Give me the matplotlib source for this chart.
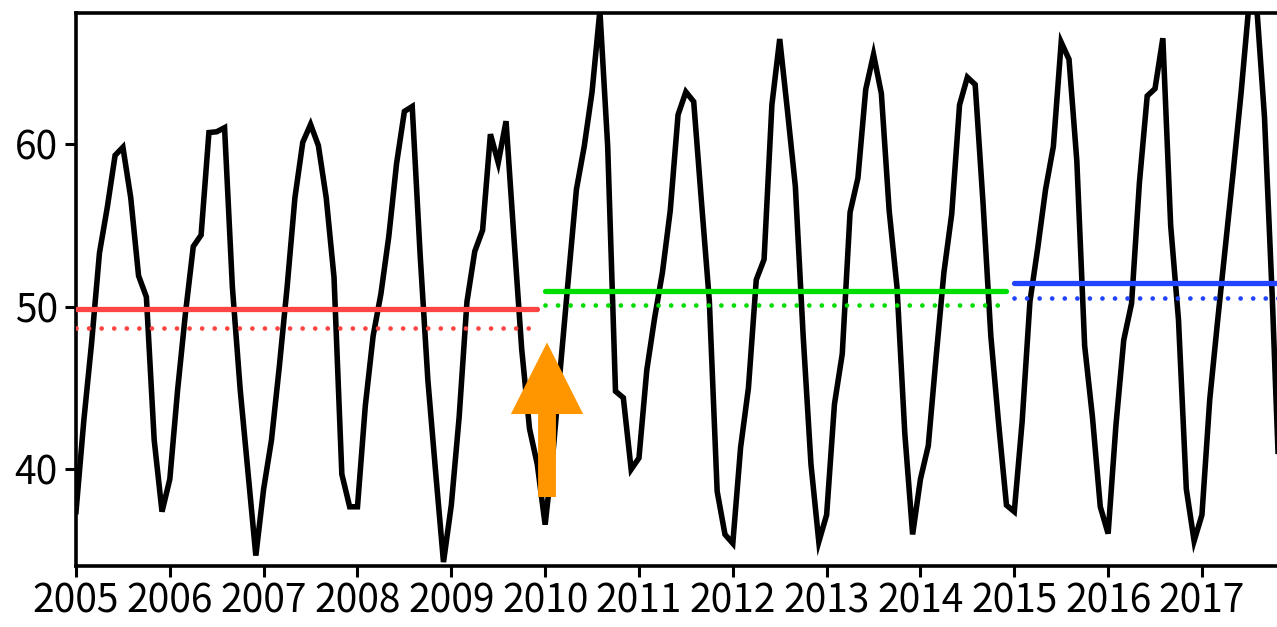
import numpy as np
import matplotlib.pyplot as plt
from matplotlib.patches import FancyArrow

plt.rcParams['font.family'] = ['Noto Sans CJK JP', 'DejaVu Sans']

# monthly values, one list per year (Jan..Dec)
y2005 = [37.4, 43.0, 47.8, 53.3, 56.1, 59.3, 59.8, 56.7, 51.9, 50.6, 41.8, 37.4]
y2006 = [39.4, 44.9, 49.6, 53.7, 54.4, 60.7, 60.75, 61.0, 51.2, 44.9, 39.8, 34.7]
y2007 = [38.8, 41.8, 46.3, 51.2, 56.7, 60.1, 61.2, 59.9, 56.7, 51.8, 39.7, 37.7]
y2008 = [37.7, 43.9, 48.2, 50.8, 54.3, 58.8, 62.0, 62.3, 53.3, 45.5, 39.8, 34.3]
y2009 = [37.8, 43.2, 50.3, 53.4, 54.7, 60.6, 58.85, 61.4, 54.3, 47.4, 42.5, 40.3]
y2010 = [36.6, 41.0, 46.5, 51.9, 57.2, 59.85, 63.2, 68.2, 59.85, 44.8, 44.4, 40.0]
y2011 = [40.7, 46.1, 49.3, 52.1, 55.9, 61.8, 63.2, 62.6, 56.4, 50.35, 38.65, 36.0]
y2012 = [35.45, 41.35, 45.0, 51.65, 52.9, 62.4, 66.45, 62.0, 57.4, 48.2, 40.3, 35.55]
y2013 = [37.2, 44.0, 47.1, 55.8, 57.9, 63.35, 65.5, 63.1, 55.9, 51.2, 42.2, 36.0]
y2014 = [39.4, 41.45, 46.9, 52.1, 55.7, 62.4, 64.1, 63.65, 56.4, 48.2, 42.8, 37.8]
y2015 = [37.4, 42.9, 50.3, 53.6, 57.2, 59.85, 66.25, 65.2, 58.95, 47.6, 43.2, 37.7]
y2016 = [36.05, 42.7, 47.95, 50.2, 57.6, 62.95, 63.4, 66.5, 55.0, 49.2, 38.8, 35.6]
y2017 = [37.2, 44.3, 49.1, 53.7, 58.3, 63.1, 68.5, 68.5, 61.65, 50.5, 37.6]

# period means (solid) and second level (dotted)
period_start = [2005.0, 2010.0, 2015.0]
period_end = [2009 + 11/12, 2014 + 11/12, 2017.95]
solid_level = [49.83, 50.98, 51.43]
dotted_level = [48.70, 50.08, 50.55]
period_color = ['#ff4444', '#00dd00', '#2244ff']

years = list(range(2005, 2018))
yticks = [40, 50, 60]

vals = np.array(y2005 + y2006 + y2007 + y2008 + y2009 + y2010 + y2011 + y2012
                + y2013 + y2014 + y2015 + y2016 + y2017)
t = 2005 + np.arange(len(vals)) / 12

fig = plt.figure(figsize=(12.77, 6.27), dpi=100)
ax = fig.add_axes([76/1277, 61/627, 1201/1277, 553.5/627])

ax.plot(t, vals, color='black', lw=4.0, solid_joinstyle='miter', zorder=2)

for s, e, ys, yd, c in zip(period_start, period_end, solid_level, dotted_level, period_color):
    ax.plot([s, e], [ys, ys], color=c, lw=3.8, solid_capstyle='round', zorder=3)
    ax.plot([s, e], [yd, yd], color=c, lw=3.4, linestyle=(0, (0.01, 2.65)),
            dash_capstyle='round', zorder=3)

# orange arrow at 2010
arr = FancyArrow(2010.02, 38.3, 0, 9.5, width=0.19, head_width=0.77, head_length=4.4,
                 length_includes_head=True, color='#ff9600', lw=0, zorder=5)
ax.add_patch(arr)

ax.set_xlim(2005, 2017.80)
ax.set_ylim(34.06, 68.08)
ax.set_xticks(years)
ax.set_xticklabels([str(y) for y in years])
ax.set_yticks(yticks)

ax.spines['right'].set_visible(False)
for side in ['left', 'top', 'bottom']:
    ax.spines[side].set_linewidth(2.6)
ax.tick_params(axis='both', direction='out', length=8, width=2.2, labelsize=28)
ax.tick_params(axis='x', pad=3)
ax.tick_params(axis='y', pad=5)

fig.savefig('out.png', dpi=100)
